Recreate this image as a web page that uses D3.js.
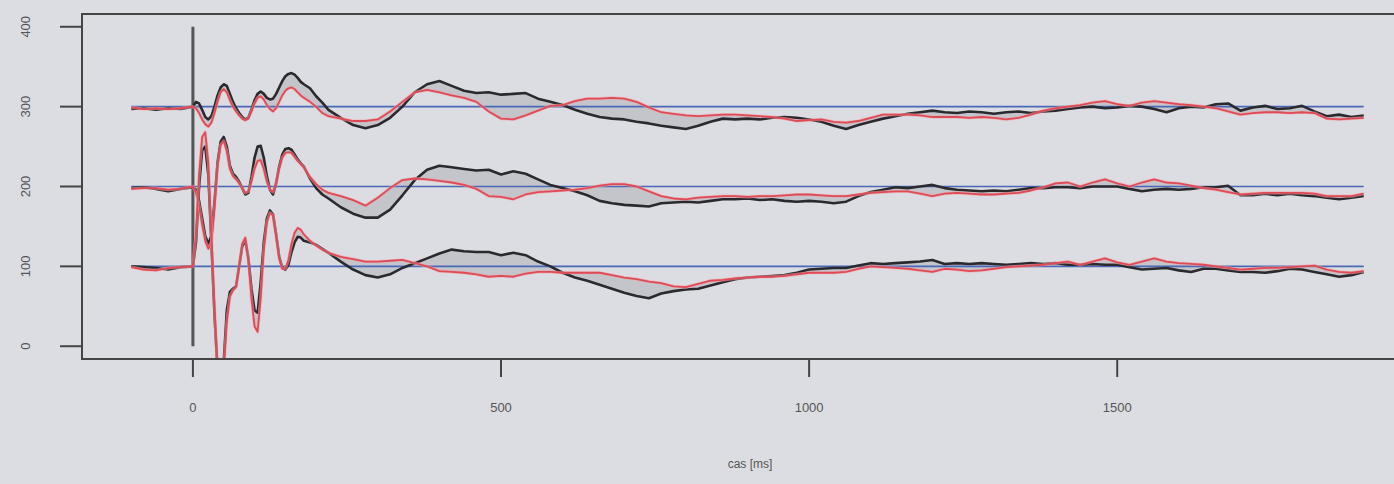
<!DOCTYPE html>
<html><head><meta charset="utf-8">
<script src="https://cdn.jsdelivr.net/npm/d3@7/dist/d3.min.js"></script>
<style>
html,body{margin:0;padding:0;background:#dcdde2;}
svg{display:block;}
text{font-family:"Liberation Sans",Arial,sans-serif;fill:#555;}
</style></head>
<body><svg id="c" width="1394" height="484"></svg>
<script>
// time grid (ms)
const times = [-100,-80,-60,-40,-20,0,5,10,15,20,25,30,35,40,45,50,55,60,65,70,75,80,85,90,95,100,105,110,115,120,125,130,135,140,145,150,155,160,165,170,175,180,190,200,210,220,
240,260,280,300,320,340,360,380,400,420,440,460,480,500,520,540,560,580,600,620,640,660,680,700,720,740,760,780,800,820,840,860,880,900,920,940,960,980,1000,1020,1040,1060,1080,1100,1120,1140,1160,1180,1200,1220,1240,1260,1280,1300,1320,1340,1360,1380,1400,1420,1440,1460,1480,1500,1520,1540,1560,1580,1600,1620,1640,1660,1680,1700,1720,1740,1760,1780,1800,1820,1840,1860,1880,1900];

const ch1Black = [297,298,296,298,297,300,306,304,296,287,284,288,300,314,324,328,326,316,306,298,292,287,284,286,296,308,316,319,316,311,309,310,316,324,332,338,341,342,340,336,331,328,323,313,305,296,
286,277,273,277,286,300,318,328,332,326,320,317,318,315,316,317,310,306,302,296,291,287,285,284,281,279,276,274,272,276,281,285,284,285,284,286,287,286,284,281,276,272,277,281,285,288,291,293,295,293,292,294,293,291,293,294,292,294,295,297,299,300,298,299,301,300,297,293,298,300,299,303,304,295,299,301,297,298,301,294,288,290,287,289];
const ch1Red = [299,297,298,297,298,300,298,292,284,278,275,280,292,306,318,322,318,308,300,294,289,285,283,285,294,304,311,313,309,302,297,294,298,306,314,320,323,324,322,318,314,311,306,300,292,288,
285,282,282,284,294,306,318,321,318,314,311,306,294,285,284,289,295,301,302,307,310,310,311,310,306,299,293,291,289,288,289,290,290,289,288,287,285,282,283,284,281,280,282,286,290,290,290,289,287,287,287,286,287,286,284,286,290,295,298,300,302,305,307,303,301,305,307,305,303,302,300,298,294,290,292,293,293,292,293,292,285,284,285,286];
const ch2Black = [198,199,197,194,197,199,196,182,160,138,128,138,180,230,256,262,250,226,216,212,206,198,190,192,212,236,250,251,236,213,196,190,204,225,240,247,248,246,240,234,229,225,210,198,190,185,
174,166,161,161,171,189,208,221,226,224,222,220,221,215,219,216,209,202,198,194,189,182,179,177,176,175,179,180,181,180,182,184,184,185,183,184,182,181,182,181,179,181,188,193,196,199,198,200,202,198,196,195,194,195,194,196,198,198,199,199,198,200,200,200,197,194,196,197,196,197,199,199,201,189,189,191,189,191,189,188,186,184,186,188];
const ch2Red = [197,198,198,196,197,200,192,176,152,132,122,130,172,225,252,257,244,222,213,209,204,198,192,194,206,222,232,233,222,206,196,193,204,222,236,242,243,242,237,232,228,224,212,203,196,192,
188,183,176,186,198,208,210,209,207,205,202,197,188,187,184,190,193,194,195,196,198,201,203,203,200,194,188,185,184,186,187,188,188,187,188,188,189,190,190,189,188,188,190,192,193,194,194,191,188,191,192,191,190,190,191,192,195,199,204,205,200,205,209,204,200,205,209,205,204,201,198,196,193,190,191,192,192,192,192,191,188,188,188,191];
const ch3Black = [100,99,98,96,99,100,130,200,245,250,215,130,40,-30,-40,-20,45,68,72,75,100,125,133,110,72,45,42,80,130,160,170,165,140,112,98,96,102,118,130,137,136,132,130,127,122,117,
106,96,89,86,90,98,104,110,116,121,119,118,118,114,117,114,106,100,92,86,82,77,72,67,63,60,66,69,71,72,76,80,84,86,87,88,89,92,96,97,98,98,101,104,103,104,105,106,108,103,104,103,104,103,102,103,104,103,104,102,102,103,102,102,99,96,97,98,95,93,97,97,95,93,93,92,94,97,96,93,90,87,89,93];
const ch3Red = [99,96,95,98,99,100,140,215,262,268,230,140,50,-30,-45,-30,30,62,70,74,100,128,136,108,60,25,18,60,120,155,167,164,138,110,97,97,108,128,142,148,146,140,132,126,121,117,
112,109,106,106,107,108,104,100,94,93,92,90,87,88,87,91,93,93,92,92,92,92,89,86,84,81,79,75,74,78,82,83,85,86,87,87,88,90,92,92,92,93,97,100,99,98,97,95,93,97,96,94,95,97,99,100,101,102,104,106,102,106,110,105,102,106,110,106,104,103,102,100,98,96,97,98,98,99,100,101,96,93,92,94];

const baselines = [300,200,100];
const yTicks = [0,100,200,300,400];
const xTicks = [0,500,1000,1500];
const xTitle = "cas [ms]";

const channels = [
  {black: ch1Black, red: ch1Red, base: baselines[0]},
  {black: ch2Black, red: ch2Red, base: baselines[1]},
  {black: ch3Black, red: ch3Red, base: baselines[2]}
];

const svg = d3.select("#c");
const L=82, R=1413, T=14, B=359;
const x = d3.scaleLinear().domain([-180,1980]).range([L,R]);
const y = d3.scaleLinear().domain([-16,416]).range([B,T]);

svg.append("defs").append("clipPath").attr("id","clip")
  .append("rect").attr("x",L).attr("y",T).attr("width",R-L).attr("height",B-T);

const plot = svg.append("g").attr("clip-path","url(#clip)");

const area = (bl, rd) => d3.area().x((d,i)=>x(times[i])).y0((d,i)=>y(rd[i])).y1((d,i)=>y(bl[i]));
const line = arr => d3.line().x((d,i)=>x(times[i])).y((d,i)=>y(arr[i]));

// vertical stimulus line
plot.append("line").attr("x1",x(0)).attr("x2",x(0)).attr("y1",y(0)).attr("y2",y(400))
  .attr("stroke","#555").attr("stroke-width",3);

channels.forEach(c=>{
  plot.append("path").datum(times).attr("d",area(c.black,c.red)(times))
    .attr("fill","#c4c5cb").attr("stroke","none");
});
channels.forEach(c=>{
  plot.append("line").attr("x1",x(times[0])).attr("x2",x(times[times.length-1]))
    .attr("y1",y(c.base)).attr("y2",y(c.base)).attr("stroke","#4a68b8").attr("stroke-width",1.6);
});
channels.forEach(c=>{
  plot.append("path").attr("d",line(c.black)(times)).attr("fill","none")
    .attr("stroke","#2a2a2e").attr("stroke-width",2.6).attr("stroke-linejoin","round");
});
channels.forEach(c=>{
  plot.append("path").attr("d",line(c.red)(times)).attr("fill","none")
    .attr("stroke","#f2a0a4").attr("stroke-width",3.2).attr("stroke-opacity",0.6).attr("stroke-linejoin","round");
  plot.append("path").attr("d",line(c.red)(times)).attr("fill","none")
    .attr("stroke","#de4a55").attr("stroke-width",1.8).attr("stroke-linejoin","round");
});

// box
svg.append("rect").attr("x",L).attr("y",T).attr("width",R-L).attr("height",B-T)
  .attr("fill","none").attr("stroke","#444").attr("stroke-width",2);

// y axis
const yAx = svg.append("g").attr("transform",`translate(${L-22},0)`)
  .call(d3.axisLeft(y).tickValues(yTicks).tickSize(0).tickPadding(0).tickFormat(""));
yAx.select(".domain").remove();
yTicks.forEach(v=>{
  svg.append("line").attr("x1",L-22).attr("x2",L).attr("y1",y(v)).attr("y2",y(v)).attr("stroke","#444").attr("stroke-width",2);
  svg.append("text").attr("transform",`translate(30,${y(v)}) rotate(-90)`).attr("text-anchor","middle")
    .attr("font-size",13).text(v);
});
// x axis
const xAx = svg.append("g").attr("transform",`translate(0,${B})`)
  .call(d3.axisBottom(x).tickValues(xTicks).tickSize(0).tickFormat(""));
xAx.select(".domain").remove();
xTicks.forEach(v=>{
  svg.append("line").attr("x1",x(v)).attr("x2",x(v)).attr("y1",B).attr("y2",B+18).attr("stroke","#444").attr("stroke-width",2);
  svg.append("text").attr("x",x(v)).attr("y",412).attr("text-anchor","middle").attr("font-size",13).text(v);
});
svg.append("text").attr("x",750).attr("y",468).attr("text-anchor","middle").attr("font-size",12).text(xTitle);
</script></body></html>
